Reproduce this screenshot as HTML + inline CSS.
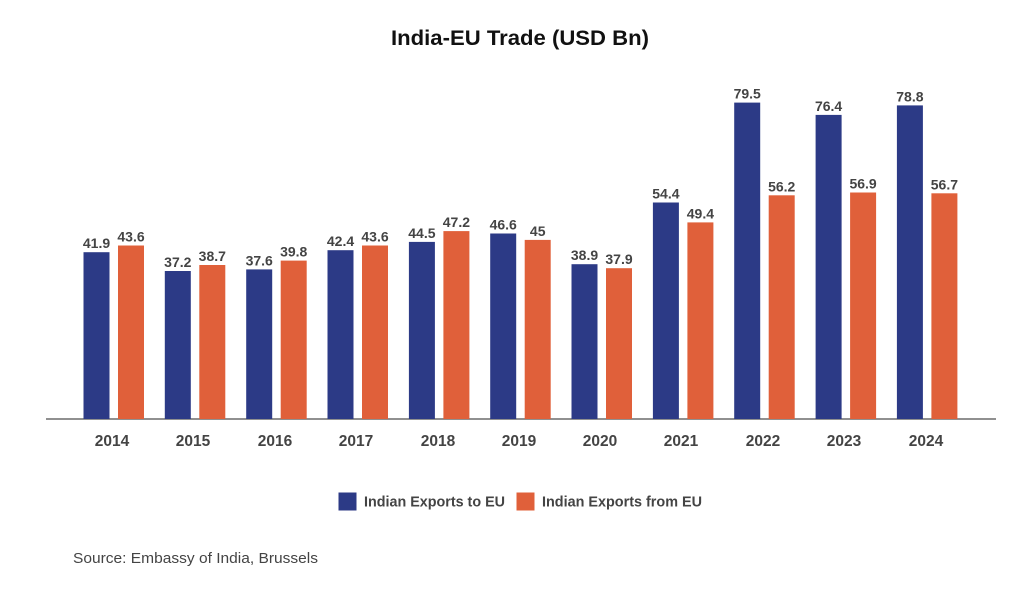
<!DOCTYPE html>
<html>
<head>
<meta charset="utf-8">
<style>
  html, body { margin: 0; padding: 0; background: #ffffff; }
  body { width: 1024px; height: 596px; overflow: hidden; }
  svg { display: block; }
  .t { font-family: "Liberation Sans", sans-serif; }
</style>
</head>
<body>
<svg width="1024" height="596" viewBox="0 0 1024 596" xmlns="http://www.w3.org/2000/svg">
  <rect width="1024" height="596" fill="#ffffff"/>
  <text class="t" x="391" y="45" font-size="21" font-weight="bold" fill="#111111" textLength="258" lengthAdjust="spacingAndGlyphs">India-EU Trade (USD Bn)</text>

  <line x1="46" y1="419" x2="996" y2="419" stroke="#6b6b6b" stroke-width="1.6"/>

  <!-- legend -->
  <rect x="338.5" y="492.5" width="18" height="18" fill="#2c3a86"/>
  <text class="t" x="364" y="506.5" font-size="15" font-weight="bold" fill="#444444" textLength="141" lengthAdjust="spacingAndGlyphs">Indian Exports to EU</text>
  <rect x="516.5" y="492.5" width="18" height="18" fill="#e0603a"/>
  <text class="t" x="542" y="506.5" font-size="15" font-weight="bold" fill="#444444" textLength="160" lengthAdjust="spacingAndGlyphs">Indian Exports from EU</text>

  <text class="t" x="73" y="563" font-size="15" fill="#444444" textLength="245" lengthAdjust="spacingAndGlyphs">Source: Embassy of India, Brussels</text>

  <!-- 2014 -->
  <rect x="83.5" y="252.2" width="26" height="166.8" fill="#2c3a86"/>
  <rect x="118" y="245.5" width="26" height="173.5" fill="#e0603a"/>
  <!-- 2015 -->
  <rect x="164.8" y="271" width="26" height="148" fill="#2c3a86"/>
  <rect x="199.3" y="265" width="26" height="154" fill="#e0603a"/>
  <!-- 2016 -->
  <rect x="246.2" y="269.4" width="26" height="149.6" fill="#2c3a86"/>
  <rect x="280.7" y="260.6" width="26" height="158.4" fill="#e0603a"/>
  <!-- 2017 -->
  <rect x="327.5" y="250.2" width="26" height="168.8" fill="#2c3a86"/>
  <rect x="362" y="245.5" width="26" height="173.5" fill="#e0603a"/>
  <!-- 2018 -->
  <rect x="408.9" y="241.9" width="26" height="177.1" fill="#2c3a86"/>
  <rect x="443.4" y="231.1" width="26" height="187.9" fill="#e0603a"/>
  <!-- 2019 -->
  <rect x="490.2" y="233.5" width="26" height="185.5" fill="#2c3a86"/>
  <rect x="524.7" y="239.9" width="26" height="179.1" fill="#e0603a"/>
  <!-- 2020 -->
  <rect x="571.5" y="264.2" width="26" height="154.8" fill="#2c3a86"/>
  <rect x="606" y="268.2" width="26" height="150.8" fill="#e0603a"/>
  <!-- 2021 -->
  <rect x="652.9" y="202.5" width="26" height="216.5" fill="#2c3a86"/>
  <rect x="687.4" y="222.4" width="26" height="196.6" fill="#e0603a"/>
  <!-- 2022 -->
  <rect x="734.2" y="102.6" width="26" height="316.4" fill="#2c3a86"/>
  <rect x="768.7" y="195.3" width="26" height="223.7" fill="#e0603a"/>
  <!-- 2023 -->
  <rect x="815.6" y="114.9" width="26" height="304.1" fill="#2c3a86"/>
  <rect x="850.1" y="192.5" width="26" height="226.5" fill="#e0603a"/>
  <!-- 2024 -->
  <rect x="896.9" y="105.4" width="26" height="313.6" fill="#2c3a86"/>
  <rect x="931.4" y="193.3" width="26" height="225.7" fill="#e0603a"/>

  <!-- value labels -->
  <g class="t" font-size="14" font-weight="bold" fill="#444444" text-anchor="middle">
    <text x="96.5" y="248">41.9</text>
    <text x="131" y="241.5">43.6</text>
    <text x="177.8" y="267">37.2</text>
    <text x="212.3" y="261">38.7</text>
    <text x="259.2" y="265.4">37.6</text>
    <text x="293.7" y="256.6">39.8</text>
    <text x="340.5" y="246.2">42.4</text>
    <text x="375" y="241.5">43.6</text>
    <text x="421.9" y="237.9">44.5</text>
    <text x="456.4" y="227.1">47.2</text>
    <text x="503.2" y="229.5">46.6</text>
    <text x="537.7" y="235.9">45</text>
    <text x="584.5" y="260.2">38.9</text>
    <text x="619" y="264.2">37.9</text>
    <text x="665.9" y="198.5">54.4</text>
    <text x="700.4" y="218.4">49.4</text>
    <text x="747.2" y="98.6">79.5</text>
    <text x="781.7" y="191.3">56.2</text>
    <text x="828.6" y="110.9">76.4</text>
    <text x="863.1" y="188.5">56.9</text>
    <text x="909.9" y="101.4">78.8</text>
    <text x="944.4" y="189.3">56.7</text>
  </g>

  <!-- year labels -->
  <g class="t" font-size="15.5" font-weight="bold" fill="#444444" text-anchor="middle">
    <text x="112" y="446">2014</text>
    <text x="193" y="446">2015</text>
    <text x="275" y="446">2016</text>
    <text x="356" y="446">2017</text>
    <text x="438" y="446">2018</text>
    <text x="519" y="446">2019</text>
    <text x="600" y="446">2020</text>
    <text x="681" y="446">2021</text>
    <text x="763" y="446">2022</text>
    <text x="844" y="446">2023</text>
    <text x="926" y="446">2024</text>
  </g>
</svg>
</body>
</html>
